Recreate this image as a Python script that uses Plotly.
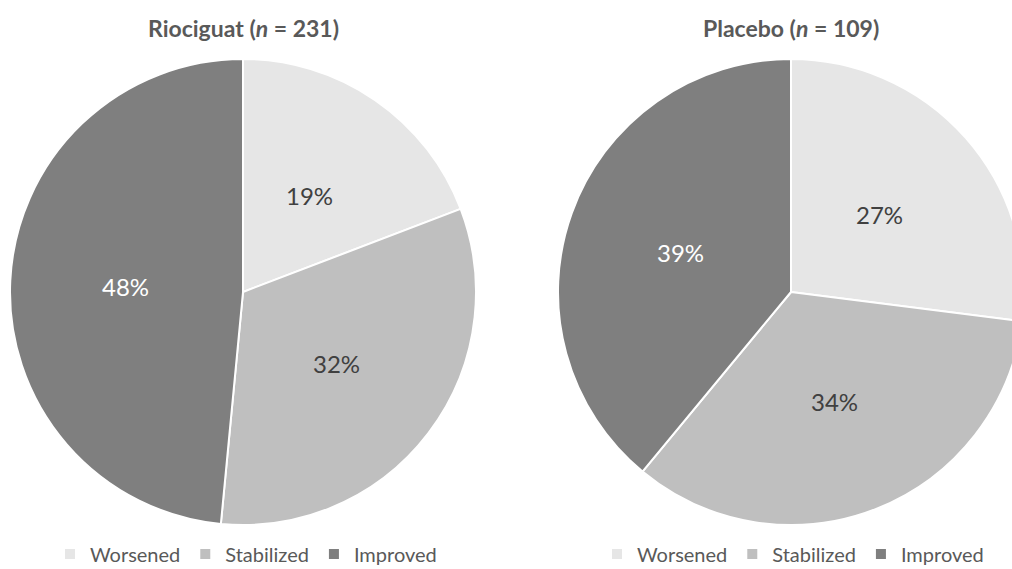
import math
import plotly.graph_objects as go

labels = ["Worsened", "Stabilized", "Improved"]
rio_values = [19, 32, 48]
pla_values = [27, 34, 39]
titles = ["Riociguat (<i>n</i> = 231)", "Placebo (<i>n</i> = 109)"]
colors = ["#e6e6e6", "#bfbfbf", "#7f7f7f"]
text_colors = ["#404040", "#404040", "#ffffff"]

W, H = 1024, 569
FONT = "Lato"

def px_x(v):
    return v / W

def px_y(v):  # v measured from top
    return 1 - v / H

R = 233
cy = 292
centers = [243, 791]
legends = ["legend", "legend2"]

fig = go.Figure()
for i, vals in enumerate([rio_values, pla_values]):
    cx = centers[i]
    # second pie gets zero-width-suffixed labels so its legend items are separate
    trace_labels = labels if i == 0 else [l + "\u200b" for l in labels]
    fig.add_trace(go.Pie(
        labels=trace_labels,
        values=vals,
        textinfo="none",
        sort=False,
        direction="clockwise",
        rotation=0,
        marker=dict(colors=colors, line=dict(color="white", width=2)),
        domain=dict(x=[px_x(cx - R), min(1, px_x(cx + R))],
                    y=[px_y(cy + R), px_y(cy - R)]),
        legend=legends[i],
        hoverinfo="label+percent",
    ))
    # percentage labels at mid-angle, half radius (computed from the values)
    total = sum(vals)
    cum = 0
    for v, tc in zip(vals, text_colors):
        mid = (cum + v / 2) / total * 2 * math.pi
        cum += v
        lx = cx + 0.505 * R * math.sin(mid)
        ly = cy - 0.505 * R * math.cos(mid)
        fig.add_annotation(
            x=px_x(lx), y=px_y(ly), xref="paper", yref="paper",
            text=f"{v}%", showarrow=False,
            font=dict(family=FONT, size=24, color=tc),
            xanchor="center", yanchor="middle",
        )
    fig.add_annotation(
        x=px_x(cx), y=px_y(28), xref="paper", yref="paper",
        text=f"<b>{titles[i]}</b>", showarrow=False,
        font=dict(family=FONT, size=23, color="#595959"),
        xanchor="center", yanchor="middle",
    )

legend_style = dict(
    orientation="h", xanchor="center", yanchor="middle",
    font=dict(family=FONT, size=20, color="#595959"),
    bgcolor="rgba(0,0,0,0)", itemclick=False, itemdoubleclick=False,
    traceorder="normal",
)
fig.update_layout(
    width=W, height=H,
    margin=dict(l=0, r=0, t=0, b=0, autoexpand=False),
    paper_bgcolor="white",
    plot_bgcolor="white",
    showlegend=True,
    legend=dict(x=px_x(246), y=px_y(554), **legend_style),
    legend2=dict(x=px_x(793), y=px_y(554), **legend_style),
)

fig.write_html(
    "out.html",
    post_script="document.documentElement.style.overflow='hidden';document.body.style.overflow='hidden';",
)
